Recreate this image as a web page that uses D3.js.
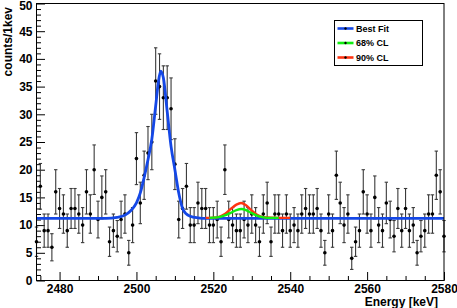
<!DOCTYPE html>
<html><head><meta charset="utf-8">
<script src="https://cdn.jsdelivr.net/npm/d3@7"></script>
<style>
html,body{margin:0;padding:0;background:#fff;}
svg{display:block;font-family:"Liberation Sans",Arial,Helvetica,sans-serif;font-weight:bold;}
</style></head><body>
<svg id="c" width="457" height="308"></svg>
<script>
// ---- data (counts per 1 keV bin) ----
const energies = [2474,2475,2476,2477,2478,2479,2480,2481,2482,2483,2484,2485,2486,2487,2488,2489,2490,2491,2492,2493,2494,2495,2496,2497,2498,2499,
  2500,2501,2502,2503,2504,2505,2506,2507,2508,2509,2510,2511,2512,2513,2514,2515,2516,2517,2518,2519,2520,2521,2522,2523,2524,2525,2526,2527,2528,2529,
  2530,2531,2532,2533,2534,2535,2536,2537,2538,2539,2540,2541,2542,2543,2544,2545,2546,2547,2548,2549,2550,2551,2552,2553,2554,2555,2556,2557,2558,2559,
  2560,2561,2562,2563,2564,2565,2566,2567,2568,2569,2570,2571,2572,2573,2574,2575,2576,2577,2578,2579,2580];
const counts = [7,17,9,9,6,16,13,12,9,13,13,12,10,16,12,20,11,15,16,7,9,8,11,12,5,10,
  22,14,19,23,25,36,35,33,33,31,21,11,13,17,10,10,14,13,13,10,10,11,7,20,11,10,9,9,11,10,
  12,10,7,12,14,7,12,12,9,12,9,10,9,12,13,12,12,13,9,5,12,9,19,14,10,12,4,7,9,16,
  12,9,15,10,9,14,11,8,13,9,13,9,10,5,8,9,12,12,19,16,8];

// fit curves (keV, counts)
const bestFitE = [2474,2492,2495,2497,2498.5,2500,2501,2502,2503,2504,2505,2505.7,2506.3,2507,2508,2509,2510,2511,2512,2513,2514,2516,2518,2580];
const bestFitV = [11.2,11.2,11.4,11.8,12.6,14.0,15.8,18.6,21.8,25.5,31.5,35.8,37.8,36.6,30.5,24.2,20.0,15.8,13.0,12.0,11.6,11.3,11.2,11.2];
const cl90E = [2518,2520,2521.5,2523,2524.5,2526,2527.2,2528.5,2530,2531.5,2533,2535,2540];
const cl90V = [11.3,11.35,11.5,12.0,12.9,13.7,14.0,13.6,12.6,11.8,11.45,11.35,11.3];
const cl68E = [2519,2521,2523,2524.5,2526,2527.3,2528.5,2530,2531.5,2533,2535,2537];
const cl68V = [11.3,11.4,11.75,12.2,12.7,12.9,12.7,12.15,11.65,11.4,11.3,11.3];

const xTicks = [2480,2500,2520,2540,2560,2580];
const xMinor = [2475,2485,2490,2495,2505,2510,2515,2525,2530,2535,2545,2550,2555,2565,2570,2575];
const yTicks = [0,5,10,15,20,25,30,35,40,45,50];
const yMinor = [1,2,3,4,6,7,8,9,11,12,13,14,16,17,18,19,21,22,23,24,26,27,28,29,31,32,33,34,36,37,38,39,41,42,43,44,46,47,48,49];
const legendLabels = ["Best Fit","68% CL","90% CL"];
const legendColors = ["#1447e6","#10ee10","#ff3311"];
const xTitle = "Energy [keV]";
const yTitle = "counts/1kev";

// ---- layout ----
const L = 36.5, R = 444, T = 3.5, B = 280.5;
const FS = 12;
const svg = d3.select("#c");
const x = d3.scaleLinear().domain([2474,2580]).range([L,R]);
const y = d3.scaleLinear().domain([0,50]).range([B,T]);

svg.append("rect").attr("x",0).attr("y",0).attr("width",457).attr("height",308).attr("fill","#fff");

// axes
function styleAxis(g){ g.select(".domain").remove(); g.selectAll("line").attr("stroke","#000").attr("stroke-width",1); }
function styleText(g){ g.selectAll("text").attr("font-size",FS).attr("font-weight","bold").attr("fill","#000").attr("font-family","Liberation Sans, Arial, sans-serif"); }
svg.append("g").attr("transform",`translate(${L},0)`)
  .call(d3.axisLeft(y).tickValues(yMinor).tickSize(-4.5).tickFormat(""))
  .call(styleAxis);
svg.append("g").attr("transform",`translate(${L},0)`)
  .call(d3.axisLeft(y).tickValues(yTicks).tickSize(-8.5).tickPadding(4))
  .call(styleAxis).call(styleText)
  .call(g=>g.selectAll(".tick").filter(d=>d===50).select("text").attr("y",2.2));
svg.append("g").attr("transform",`translate(0,${B})`)
  .call(d3.axisBottom(x).tickValues(xMinor).tickSize(-4.5).tickFormat(""))
  .call(styleAxis);
svg.append("g").attr("transform",`translate(0,${B})`)
  .call(d3.axisBottom(x).tickValues(xTicks).tickSize(-8.5).tickPadding(4).tickFormat(d3.format("d")))
  .call(styleAxis).call(styleText);

// titles
svg.append("text").attr("x",438).attr("y",305.5).attr("text-anchor","end")
  .attr("font-size",FS).text(xTitle);
svg.append("text").attr("transform","translate(11.5,7) rotate(-90)").attr("text-anchor","end")
  .attr("font-size",FS).text(yTitle);

// data points with error bars
const pts = energies.map((e,i)=>({e, v:counts[i]}));
const eb = svg.append("g").attr("stroke","#3a3a3a").attr("stroke-width",1.1);
pts.forEach(p=>{
  const s = Math.sqrt(p.v);
  const cx = x(p.e);
  eb.append("line").attr("x1",cx).attr("x2",cx).attr("y1",y(p.v+s)).attr("y2",y(p.v-s));
  eb.append("line").attr("x1",cx-1.7).attr("x2",cx+1.7).attr("y1",y(p.v+s)).attr("y2",y(p.v+s));
  eb.append("line").attr("x1",cx-1.7).attr("x2",cx+1.7).attr("y1",y(p.v-s)).attr("y2",y(p.v-s));
});
svg.append("g").selectAll("circle").data(pts).join("circle")
  .attr("cx",d=>x(d.e)).attr("cy",d=>y(d.v)).attr("r",1.8).attr("fill","#000");

// fit curves
const line = d3.line().x(d=>x(d[0])).y(d=>y(d[1])).curve(d3.curveMonotoneX);
const zip = (a,b)=>a.map((v,i)=>[v,b[i]]);
svg.append("path").attr("d",line(zip(bestFitE,bestFitV))).attr("fill","none")
  .attr("stroke",legendColors[0]).attr("stroke-width",2.8).attr("stroke-linejoin","round");
svg.append("path").attr("d",line(zip(cl90E,cl90V))).attr("fill","none")
  .attr("stroke",legendColors[2]).attr("stroke-width",2.4);
svg.append("path").attr("d",line(zip(cl68E,cl68V))).attr("fill","none")
  .attr("stroke",legendColors[1]).attr("stroke-width",2.4);

// frame
svg.append("rect").attr("x",L).attr("y",T).attr("width",R-L).attr("height",B-T)
  .attr("fill","none").attr("stroke","#000").attr("stroke-width",1);

// legend
const lg = svg.append("g");
lg.append("rect").attr("x",334.5).attr("y",20.5).attr("width",88).attr("height",45)
  .attr("fill","#fff").attr("stroke","#000").attr("stroke-width",1);
const rows = [28.5,43,57.5];
legendLabels.forEach((t,i)=>{
  lg.append("line").attr("x1",337.5).attr("x2",353.5).attr("y1",rows[i]).attr("y2",rows[i])
    .attr("stroke",legendColors[i]).attr("stroke-width",2.6);
  lg.append("circle").attr("cx",345.5).attr("cy",rows[i]).attr("r",1.2).attr("fill","#000");
  lg.append("text").attr("x",356).attr("y",rows[i]+3.3).attr("font-size",9).text(t);
});
</script>
</body></html>
